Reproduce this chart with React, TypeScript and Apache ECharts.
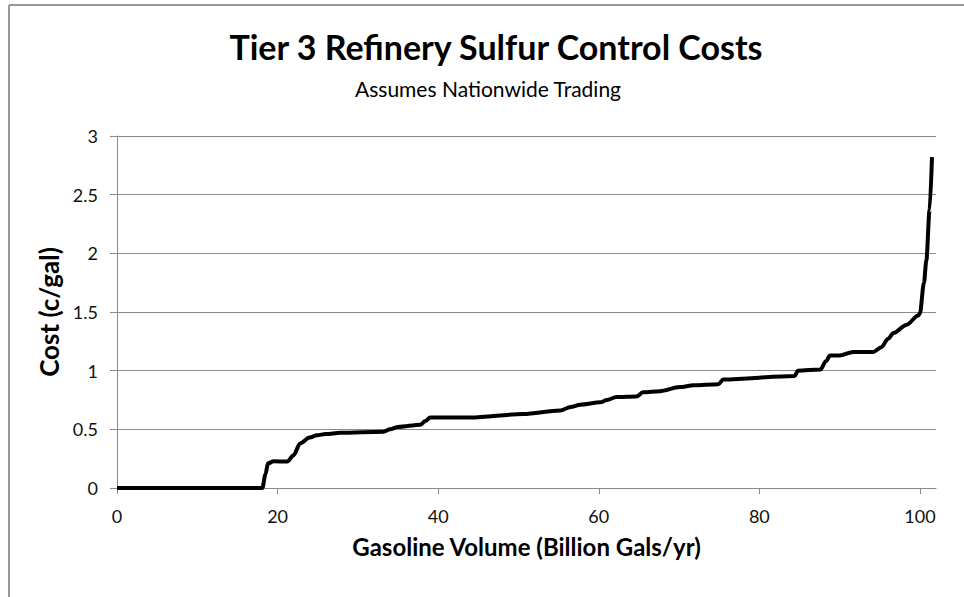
import React, { useEffect, useRef } from "react";
import * as echarts from "echarts";

const titleText = "Tier 3 Refinery Sulfur Control Costs";
const subtitleText = "Assumes Nationwide Trading";
const xAxisName = "Gasoline Volume (Billion Gals/yr)";
const yAxisName = "Cost (c/gal)";

const xTicks = [0, 20, 40, 60, 80, 100];
const yTicks = [0, 0.5, 1, 1.5, 2, 2.5, 3];

const volume = [
  0, 18.1, 18.5, 18.8, 19.5, 21.2, 22.0, 22.8, 24.0, 24.9, 26.0, 27.8, 33.2, 34.0, 35.0,
  37.8, 38.4, 39.0, 44.0, 50.6, 55.2, 56.5, 57.7, 60.2, 61.0, 62.2, 64.7, 65.5, 67.6,
  70.1, 71.8, 74.9, 75.5, 84.4, 84.8, 87.6, 88.3, 88.8, 90.0, 91.7, 94.2, 95.2, 96.0,
  96.7, 98.3, 99.8, 100.0, 100.5, 100.8, 101.2, 101.5,
];
const cost = [
  0, 0, 0.12, 0.21, 0.227, 0.225, 0.28, 0.38, 0.43, 0.45, 0.46, 0.47, 0.48, 0.5, 0.52,
  0.54, 0.57, 0.6, 0.6, 0.63, 0.66, 0.69, 0.71, 0.73, 0.75, 0.775, 0.78, 0.815, 0.825,
  0.86, 0.875, 0.885, 0.925, 0.955, 1.0, 1.01, 1.08, 1.13, 1.13, 1.16, 1.16, 1.2, 1.27,
  1.32, 1.39, 1.47, 1.49, 1.75, 1.94, 2.37, 2.82,
];

const FONT = "Lato, 'Open Sans', sans-serif";

export default function App() {
  const ref = useRef<HTMLDivElement>(null);
  useEffect(() => {
    if (!ref.current) return;
    const chart = echarts.init(ref.current, undefined, { renderer: "svg" });
    const data = volume.map((v, i) => [v, cost[i]]);
    chart.setOption({
      animation: false,
      backgroundColor: "#ffffff",
      textStyle: { fontFamily: FONT },
      title: [
        {
          text: titleText,
          left: 491,
          textAlign: "center",
          top: 24,
          textStyle: { fontFamily: FONT, fontSize: 34, fontWeight: "bold", color: "#000" },
        },
        {
          text: subtitleText,
          left: 483,
          textAlign: "center",
          top: 73,
          textStyle: { fontFamily: FONT, fontSize: 21, fontWeight: "normal", color: "#000" },
        },
      ],
      graphic: [
        { type: "line", shape: { x1: 9, y1: 5, x2: 9, y2: 597 }, style: { stroke: "#999", lineWidth: 2 } },
        { type: "line", shape: { x1: 9, y1: 5, x2: 964, y2: 5 }, style: { stroke: "#999", lineWidth: 2 } },
      ],
      grid: { left: 117, right: 28, top: 136, bottom: 109, containLabel: false },
      xAxis: {
        type: "value",
        min: 0,
        max: 102,
        interval: 20,
        name: xAxisName,
        nameLocation: "middle",
        nameGap: 46,
        nameTextStyle: { fontFamily: FONT, fontSize: 24, fontWeight: "bold", color: "#000" },
        axisLine: { show: true, onZero: false, lineStyle: { color: "#8a8a8a", width: 1 } },
        axisTick: { show: true, length: 6, customValues: xTicks, lineStyle: { color: "#8a8a8a" } },
        axisLabel: { customValues: xTicks, margin: 19, fontFamily: FONT, fontSize: 18, color: "#111" },
        splitLine: { show: false },
      },
      yAxis: {
        type: "value",
        min: 0,
        max: 3,
        interval: 0.5,
        name: yAxisName,
        nameLocation: "middle",
        nameGap: 53,
        nameTextStyle: { fontFamily: FONT, fontSize: 26, fontWeight: "bold", color: "#000" },
        axisLine: { show: true, lineStyle: { color: "#8a8a8a", width: 1 } },
        axisTick: { show: true, length: 7, lineStyle: { color: "#8a8a8a" } },
        axisLabel: {
          margin: 19,
          fontFamily: FONT,
          fontSize: 18,
          color: "#111",
          formatter: (v: number) => (yTicks.includes(v) ? String(v) : ""),
        },
        splitLine: { show: true, lineStyle: { color: "#8a8a8a", width: 1 } },
      },
      series: [
        {
          type: "line",
          data,
          showSymbol: false,
          smooth: 0.3,
          smoothMonotone: "x",
          lineStyle: { color: "#000", width: 4 },
        },
      ],
    });
    return () => chart.dispose();
  }, []);
  return (
    <div
      ref={ref}
      style={{ position: "fixed", left: 0, top: 0, width: 964, height: 597 }}
    />
  );
}
